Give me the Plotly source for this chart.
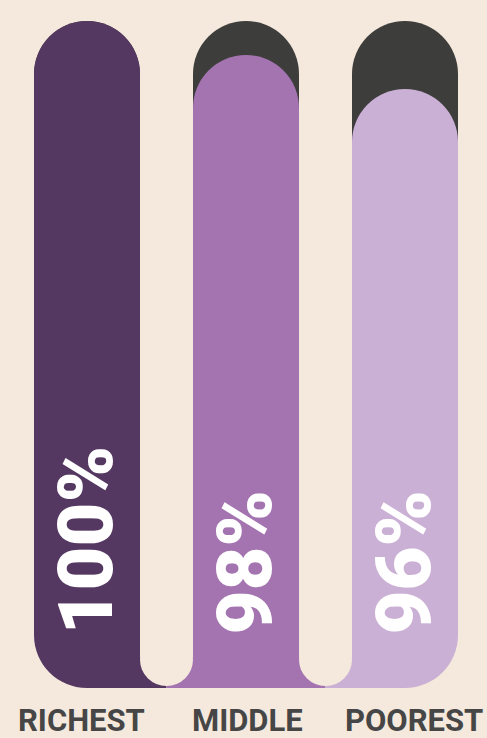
import plotly.graph_objects as go

# ---- data ----
categories = ["RICHEST", "MIDDLE", "POOREST"]
values = [100, 98, 96]
full = [100, 100, 100]
labels = ["100%", "98%", "96%"]

# ---- style ----
BG = "#f4e9dc"
GREY = "#3d3d3b"
COLORS = ["#553862", "#a474b1", "#cbb0d6"]
TXT = "#464646"

W, H = 487, 738
MB = 50                      # bottom margin (labels)
PH = H - MB                  # plot height in px
K = 17.0                     # px per percentage point
YTOP = 100 + 21 / K
YBOT = YTOP - PH / K
BARW = 2 / 3
R_OUT = 53
R_GAP = 26.5
KAPPA = 0.5523

fig = go.Figure()
# full-height grey track (main axes)
fig.add_trace(go.Bar(x=categories, y=full, marker=dict(color=GREY, cornerradius="50%", line=dict(width=0)),
                     width=BARW, hoverinfo="skip", xaxis="x", yaxis="y"))
# coloured value bars on overlaid axes so each bar keeps its own rounded top
fig.add_trace(go.Bar(x=categories, y=values, marker=dict(color=COLORS, cornerradius="50%", line=dict(width=0)),
                     width=BARW, hoverinfo="skip", xaxis="x2", yaxis="y2"))

shapes = []
n = len(categories)
# joints between bars at the bottom
for i in range(n - 1):
    left_edge = i + BARW / 2
    right_edge = i + 1 - BARW / 2
    mid = i + 0.5
    shapes.append(dict(type="rect", xref="x", yref="y", x0=left_edge, x1=mid,
                       ysizemode="pixel", yanchor=YBOT, y0=0, y1=R_GAP + 4,
                       fillcolor=COLORS[i], line=dict(width=0)))
    shapes.append(dict(type="rect", xref="x", yref="y", x0=mid, x1=right_edge,
                       ysizemode="pixel", yanchor=YBOT, y0=0, y1=R_GAP + 4,
                       fillcolor=COLORS[i + 1], line=dict(width=0)))
    shapes.append(dict(type="circle", xref="x", yref="y",
                       xsizemode="pixel", xanchor=mid, x0=-R_GAP, x1=R_GAP,
                       ysizemode="pixel", yanchor=YBOT, y0=2, y1=2 + 2 * R_GAP,
                       fillcolor=BG, line=dict(width=0)))
# outer rounded corners (masks)
c = R_OUT * (1 - KAPPA)
left_path = f"M -3,-3 L -3,{R_OUT} L 0,{R_OUT} C 0,{c} {c},0 {R_OUT},0 L {R_OUT},-3 Z"
right_path = f"M 3,-3 L 3,{R_OUT} L 0,{R_OUT} C 0,{c} {-c},0 {-R_OUT},0 L {-R_OUT},-3 Z"
shapes.append(dict(type="path", xref="x", yref="y", xsizemode="pixel", ysizemode="pixel",
                   xanchor=-BARW / 2, yanchor=YBOT, path=left_path, fillcolor=BG, line=dict(width=0)))
shapes.append(dict(type="path", xref="x", yref="y", xsizemode="pixel", ysizemode="pixel",
                   xanchor=n - 1 + BARW / 2, yanchor=YBOT, path=right_path, fillcolor=BG, line=dict(width=0)))

annotations = []
for i, lab in enumerate(labels):
    annotations.append(dict(x=i, xref="x", y=(PH - 637) / PH, yref="paper", text=lab,
                            textangle=-90, showarrow=False, xanchor="center", yanchor="bottom",
                            xshift=-2,
                            font=dict(family="Roboto", size=76, color="white", weight=900)))
xshifts = [-6, 1, 9]
for i, cat in enumerate(categories):
    annotations.append(dict(x=i, xref="x", y=(PH - 720) / PH, yref="paper", text=cat,
                            showarrow=False, xanchor="center", yanchor="middle", xshift=xshifts[i],
                            font=dict(family="Roboto", size=31, color=TXT, weight="bold")))

xr = [-87 / 159, (W - 87) / 159]
axis_common = dict(showticklabels=False, showgrid=False, zeroline=False, showline=False,
                   ticks="", fixedrange=True)
fig.update_layout(
    width=W, height=H,
    margin=dict(l=0, r=0, t=0, b=MB),
    paper_bgcolor=BG, plot_bgcolor=BG,
    showlegend=False,
    xaxis=dict(range=xr, **axis_common),
    yaxis=dict(range=[YBOT, YTOP], visible=False, **axis_common),
    xaxis2=dict(range=xr, overlaying="x", visible=False, **axis_common),
    yaxis2=dict(range=[YBOT, YTOP], overlaying="y", visible=False, **axis_common),
    shapes=shapes, annotations=annotations,
)
fig.write_html("out.html", config={"displayModeBar": False},
               post_script="document.body.style.margin='0px';")
